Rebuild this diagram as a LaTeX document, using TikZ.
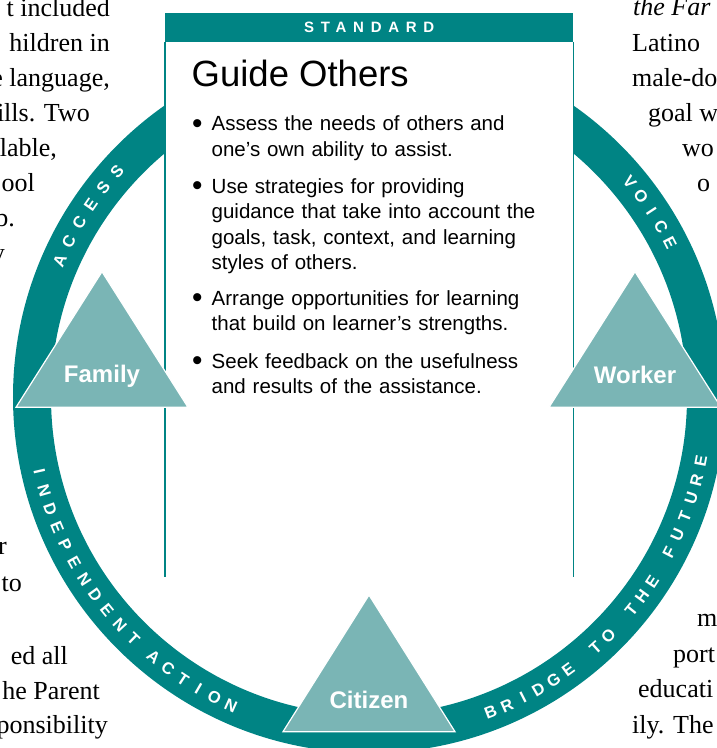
\documentclass[tikz,border=0pt]{standalone}
\usepackage{fontspec}
\setmainfont{Liberation Serif}
\setsansfont{Liberation Sans}
\newfontfamily\headfont[LetterSpace=45]{Liberation Sans}
\usetikzlibrary{positioning}

\definecolor{ringteal}{RGB}{0,132,132}
\definecolor{trifill}{RGB}{122,181,181}

% letters spaced round the ring: name, first angle, step, turn, letters
\newcommand{\ringword}[5]{%
  \foreach \ch [count=\k from 0] in {#5}
    \node[ringletter, rotate={#2+(#3)*\k+(#4)}] (#1\k) at ({#2+(#3)*\k}:338) {\ch};}
\newcommand{\bul}{\makebox[19.5pt][l]{\raisebox{-2.6pt}{\scalebox{1.45}{\textbullet}}}}
\newcommand{\ind}{\hspace*{19.5pt}}

\begin{document}
\begin{tikzpicture}[x=1pt,y=1pt,
  ringletter/.style={text=white, font=\sffamily\bfseries\fontsize{16.5}{16.5}\selectfont, inner sep=0pt},
  tri/.style={fill=trifill, draw=white, line width=1.2pt},
  trilabel/.style={text=white, font=\sffamily\bfseries\fontsize{24}{24}\selectfont, anchor=base, inner sep=0pt},
  bgtext/.style={font=\fontsize{26}{26}\selectfont, inner sep=0pt},
  item/.style={font=\sffamily\fontsize{20.5}{25.5}\selectfont, align=left, text width=360pt, anchor=north west, inner sep=0pt}]
\useasboundingbox (0,0) rectangle (717,748);
\clip (0,0) rectangle (717,748);

% page text round the figure
\node[bgtext, anchor=base east] (l1) at (110,731) {t included};
\node[bgtext, anchor=base east] (l2) at (110,696) {hildren in};
\node[bgtext, anchor=base east] (l3) at (110,661) {e language,};
\node[bgtext, anchor=base east] (l4) at (90,626) {kills. Two};
\node[bgtext, anchor=base east] (l5) at (57,591) {lable,};
\node[bgtext, anchor=base east] (l6) at (35,556) {ool};
\node[bgtext, anchor=base east] (l7) at (15,521) {b.};
\node[bgtext, anchor=base east] (l8) at (5,486) {y};
\node[bgtext, anchor=base east] (l9) at (7,193) {r};
\node[bgtext, anchor=base east] (l10) at (22,156) {to};
\node[bgtext, anchor=base east] (l11) at (68,83) {ed all};
\node[bgtext, anchor=base east] (l12) at (100,48) {he Parent};
\node[bgtext, anchor=base east] (l13) at (108,15) {ponsibility};

\node[bgtext, anchor=base west] (r1) at (633,732) {\textit{the Far}};
\node[bgtext, anchor=base west] (r2) at (632,696) {Latino};
\node[bgtext, anchor=base west] (r3) at (632,661) {male-do};
\node[bgtext, anchor=base west] (r4) at (648,626) {goal w};
\node[bgtext, anchor=base west] (r5) at (682,591) {wo};
\node[bgtext, anchor=base west] (r6) at (697,556) {o};
\node[bgtext, anchor=base west] (r7) at (697,121) {m};
\node[bgtext, anchor=base west] (r8) at (673,85) {port};
\node[bgtext, anchor=base west] (r9) at (638,50) {educati};
\node[bgtext, anchor=base west] (r10) at (632,15) {ily. The};

% the ring
\coordinate (ctr) at (369,351);
\draw[ringteal, line width=38] (ctr) circle[radius=337];

% standard card
\node[fill=white, inner sep=0pt, minimum width=408, minimum height=564, anchor=north west] (card) at (165,735) {};
\node[fill=ringteal, text=white, font=\headfont\bfseries\fontsize{15}{15}\selectfont, inner sep=0pt,
  minimum width=408, minimum height=29, anchor=north west] (head) at (card.north west) {STANDARD};
\draw[ringteal, line width=1.2] (head.south west) -- (card.south west) (head.south east) -- (card.south east);

\node[anchor=base west, font=\sffamily\fontsize{36.5}{36.5}\selectfont, inner sep=0pt] (title) at (191.5,661) {Guide Others};
\node[item] (it1) at (192,635.4) {\strut\bul Assess the needs of others and\\\ind one’s own ability to assist.};
\node[item] (it2) at (192,572.9) {\strut\bul Use strategies for providing\\\ind guidance that take into account the\\\ind goals, task, context, and learning\\\ind styles of others.};
\node[item] (it3) at (192,460.9) {\strut\bul Arrange opportunities for learning\\\ind that build on learner’s strengths.};
\node[item] (it4) at (192,397.9) {\strut\bul Seek feedback on the usefulness\\\ind and results of the assistance.};

% roles
\draw[tri] (16,340.7) -- (102,476.3) -- (188,340.7) -- cycle;
\draw[tri] (549,340.7) -- (635,476.3) -- (721,340.7) -- cycle;
\draw[tri] (283,16.3) -- (369,153) -- (455,16.3) -- cycle;
\node[trilabel] (family) at (102,365.3) {Family};
\node[trilabel] (worker) at (635,364.7) {Worker};
\node[trilabel] (citizen) at (369,39.7) {Citizen};

% words on the ring
\begin{scope}[shift={(ctr)}]
\ringword{acc}{156.2}{-3.6}{-90}{A,C,C,E,S,S}
\ringword{voi}{39.5}{-3.1}{-90}{V,O,I,C,E}
\ringword{ind}{192.8}{3.3}{90}{I,N,D,E,P,E,N,D,E,N,T}
\ringword{act}{230.4}{3.1}{90}{A,C,T,I,O,N}
\ringword{bri}{291.1}{3.0}{90}{B,R,I,D,G,E}
\ringword{to}{312.1}{3.0}{90}{T,O}
\ringword{the}{320.9}{3.0}{90}{T,H,E}
\ringword{fut}{332.6}{3.3}{90}{F,U,T,U,R,E}
\end{scope}
\end{tikzpicture}
\end{document}
